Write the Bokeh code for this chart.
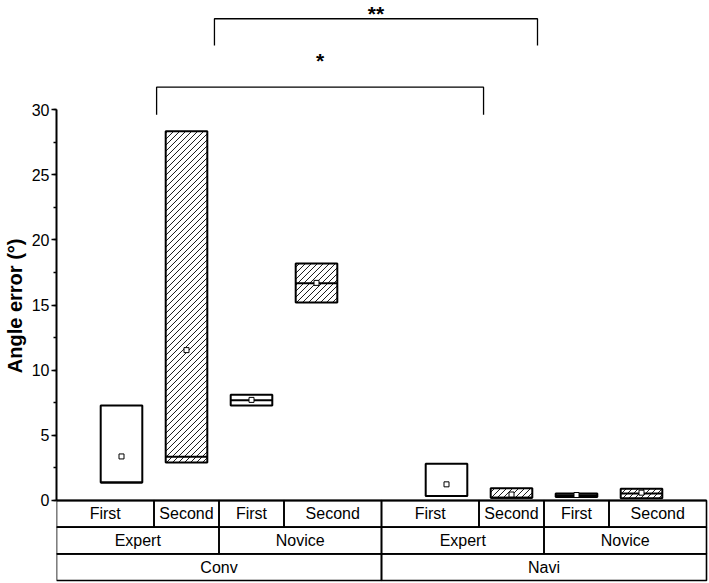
import math
from bokeh.plotting import figure
from bokeh.models import Range1d, SingleIntervalTicker, ColumnDataSource
from bokeh.core.properties import value
from bokeh.embed import file_html
from bokeh.resources import INLINE

# ---- data ----
groups = ["Conv", "Conv", "Conv", "Conv", "Navi", "Navi", "Navi", "Navi"]
levels = ["Expert", "Expert", "Novice", "Novice", "Expert", "Expert", "Novice", "Novice"]
sessions = ["First", "Second", "First", "Second", "First", "Second", "First", "Second"]
q1 = [1.38, 2.92, 7.29, 15.20, 0.34, 0.22, 0.27, 0.18]
q3 = [7.29, 28.34, 8.11, 18.19, 2.82, 0.94, 0.53, 0.91]
median = [1.38, 3.35, 7.70, 16.68, 0.34, 0.22, 0.40, 0.54]
mean = [3.38, 11.54, 7.72, 16.70, 1.24, 0.46, 0.42, 0.60]

y_ticks_interval = 5
y_max_axis = 30
y_label = "Angle error (°)"

# significance brackets
br_x0 = [1.54, 2.43]
br_x1 = [6.57, 7.40]
br_top = [31.72, 36.97]
br_leg = [29.60, 34.92]
br_label = ["*", "**"]
br_label_y = [33.74, 37.41]

FONT = "Liberation Sans"

# ---- positions derived from categories ----
group_order = []
for g in groups:
    if g not in group_order:
        group_order.append(g)
pos = [i + 1 + group_order.index(g) for i, g in enumerate(groups)]
box_w = 0.64
x_lo = pos[0] - 1
x_hi = pos[-1] + 1

row_h = 2.047
W, H = 709, 583
Y0, Y1 = -6.37, 38.37
AXIS_W = 56
X1 = x_hi + 3.0 / ((W - AXIS_W - 3.0) / (x_hi - x_lo))

p = figure(width=W, height=H, output_backend="svg", toolbar_location=None,
           x_range=Range1d(x_lo, X1), y_range=Range1d(Y0, Y1),
           x_axis_location=None, min_border_left=0, min_border_right=0,
           min_border_top=0, min_border_bottom=0)
p.outline_line_color = None
p.xgrid.visible = False
p.ygrid.visible = False
p.background_fill_color = "white"
p.border_fill_color = "white"

ax = p.yaxis[0]
ax.bounds = (0, y_max_axis)
ax.ticker = SingleIntervalTicker(interval=y_ticks_interval, num_minor_ticks=2)
ax.major_tick_in = 0
ax.major_tick_out = 5
ax.minor_tick_in = 0
ax.minor_tick_out = 3
ax.axis_line_width = 2
ax.major_tick_line_width = 1.5
ax.minor_tick_line_width = 1.5
ax.major_label_text_font = FONT
ax.major_label_text_font_size = "16px"
ax.major_label_text_color = "black"
ax.major_label_standoff = 2
# trailing no-break spaces move the centred label slightly lower, as in the reference
ax.axis_label = y_label + "\u00a0" * 5
ax.axis_label_text_font = FONT
ax.axis_label_text_font_style = "bold"
ax.axis_label_text_font_size = "20px"
ax.axis_label_text_color = "black"
ax.axis_label_standoff = 3

# ---- boxes ----
lefts = [x - box_w / 2 for x in pos]
rights = [x + box_w / 2 for x in pos]
src = ColumnDataSource(dict(x=pos, left=lefts, right=rights,
                            q1=q1, q3=q3, median=median, mean=mean))
p.quad(left="left", right="right", bottom="q1", top="q3", source=src,
       fill_color="white", line_color=None)

# 45-degree hatch for "Second" boxes, computed in screen-proportional units
frame_w = W - AXIS_W
sx = frame_w / (X1 - x_lo)
sy = H / (Y1 - Y0)
step = 6.0
hx0, hy0, hx1, hy1 = [], [], [], []
for i, s in enumerate(sessions):
    if s != "Second":
        continue
    u0, u1 = lefts[i] * sx, rights[i] * sx
    v0, v1 = q1[i] * sy, q3[i] * sy
    k = math.ceil((v0 - u1) / step)
    while k * step <= v1 - u0:
        c = k * step
        ua = max(u0, v0 - c)
        ub = min(u1, v1 - c)
        if ub > ua:
            hx0.append(ua / sx); hy0.append((ua + c) / sy)
            hx1.append(ub / sx); hy1.append((ub + c) / sy)
        k += 1
p.segment(x0=hx0, y0=hy0, x1=hx1, y1=hy1, line_color="black", line_width=0.9)

p.quad(left="left", right="right", bottom="q1", top="q3", source=src,
       fill_color=None, line_color="black", line_width=2)
p.segment(x0="left", x1="right", y0="median", y1="median", source=src,
          line_color="black", line_width=2)
p.scatter(x="x", y="mean", source=src, marker="square", size=5,
          fill_color="white", line_color="black", line_width=1)

# ---- category table ----
edges = [x_lo] + [(pos[i] + pos[i + 1]) / 2 for i in range(len(pos) - 1)] + [x_hi]


def spans(keys):
    out = []
    start = 0
    for i in range(1, len(keys) + 1):
        if i == len(keys) or keys[i] != keys[start]:
            out.append((edges[start], edges[i], keys[start][-1]))
            start = i
    return out


rows = [
    spans([(g, l, s) for g, l, s in zip(groups, levels, sessions)]),
    spans([(g, l) for g, l in zip(groups, levels)]),
    spans([(g,) for g in groups]),
]
cl, cr, cb, ct, tx, ty, tt = [], [], [], [], [], [], []
for r, cells in enumerate(rows):
    top = -r * row_h
    bot = -(r + 1) * row_h
    for a, b, lab in cells:
        cl.append(a); cr.append(b); cb.append(bot); ct.append(top)
        tx.append((a + b) / 2); ty.append((top + bot) / 2); tt.append(lab)
p.quad(left=cl, right=cr, bottom=cb, top=ct, fill_color=None,
       line_color="black", line_width=1.6)
p.segment(x0=[x_lo], x1=[x_hi], y0=[0], y1=[0], line_color="black", line_width=2)
p.text(x=tx, y=ty, text=tt, text_align="center", text_baseline="middle",
       text_font=value(FONT), text_font_size="16px", text_color="black")

# ---- significance brackets ----
bx, by = [], []
for a, b, t, l in zip(br_x0, br_x1, br_top, br_leg):
    bx.append([a, a, b, b]); by.append([l, t, t, l])
p.multi_line(xs=bx, ys=by, line_color="black", line_width=1.3)
p.text(x=[(a + b) / 2 for a, b in zip(br_x0, br_x1)], y=br_label_y, text=br_label,
       text_align="center", text_baseline="middle", text_font=value(FONT),
       text_font_style="bold", text_font_size="21px", text_color="black")

open("out.html", "w").write(file_html(p, INLINE))
